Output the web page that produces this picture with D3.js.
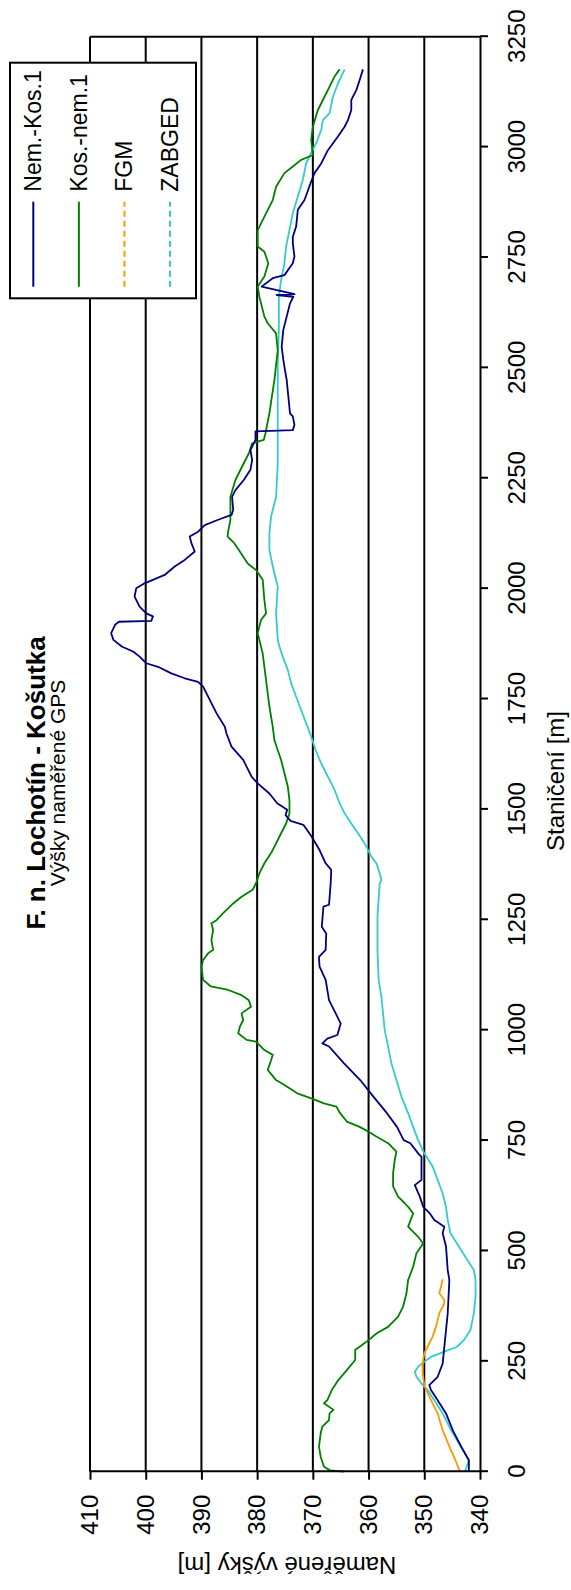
<!DOCTYPE html>
<html><head><meta charset="utf-8">
<script src="https://cdn.jsdelivr.net/npm/d3@7"></script>
<style>html,body{margin:0;padding:0;background:#fff;} svg{display:block;font-family:"Liberation Sans",Arial,sans-serif;}</style>
</head><body><svg id="c" width="571" height="1590"></svg>
<script>
// ---- data ----
const stationTicks = [0,250,500,750,1000,1250,1500,1750,2000,2250,2500,2750,3000,3250];
const heightTicks = [340,350,360,370,380,390,400,410];
const seriesNames = ["Nem.-Kos.1","Kos.-nem.1","FGM","ZABGED"];
const seriesColors = ["#000080","#008000","#FF9900","#33CCCC"];

const nemKosS = [0,26,57,94,132,162,185,196,215,245,283,358,434,457,510,540,555,570,585,600,623,649,661,698,713,721,744,751,781,812,849,887,925,963,970,981,989,1015,1038,1068,1114,1144,1166,1182,1219,1234,1280,1284,1333,1363,1378,1408,1438,1465,1474,1487,1499,1514,1536,1559,1574,1612,1642,1672,1687,1718,1748,1778,1789,1797,1808,1823,1831,1846,1857,1869,1884,1899,1918,1925,1927,1937,1944,1959,1982,2001,2012,2031,2050,2065,2084,2103,2118,2129,2144,2156,2167,2178,2208,2223,2246,2269,2291,2314,2337,2356,2359,2371,2390,2397,2435,2473,2495,2518,2548,2586,2616,2646,2661,2665,2667,2684,2703,2710,2737,2752,2782,2797,2820,2858,2880,2922,2941,2963,2993,3024,3046,3061,3084,3107,3129,3152,3176];
const nemKosV = [342.0,342.0,343.4,344.9,346.1,347.6,348.8,349.1,347.6,346.7,346.4,345.8,345.5,345.8,346.1,346.7,346.4,348.2,349.0,350.2,350.8,351.7,350.5,350.5,350.5,351.1,352.5,353.7,354.9,356.7,359.1,361.5,364.4,367.1,368.3,367.4,365.6,365.0,365.9,367.1,367.7,368.8,368.9,367.7,367.6,368.4,368.1,367.1,366.8,366.7,367.7,368.8,370.2,371.7,374.0,374.9,374.6,376.4,377.8,379.9,381.0,382.5,384.6,385.5,385.8,387.3,388.5,389.7,390.6,393.0,395.4,397.8,399.9,401.1,402.2,404.3,405.8,406.2,405.5,404.8,399.0,398.7,399.9,401.1,402.0,401.7,400.2,396.6,394.8,393.0,391.2,391.8,392.1,390.6,389.4,387.0,384.6,384.3,384.5,383.9,382.4,381.2,380.9,381.2,380.3,380.3,373.6,373.3,373.6,374.1,374.4,374.7,375.0,375.3,375.6,375.3,374.7,374.1,373.5,376.5,373.3,379.2,377.2,375.1,373.6,373.3,373.6,373.6,373.0,372.7,371.5,370.3,369.7,368.5,367.3,365.5,364.3,363.7,363.1,363.1,362.2,361.6,361.0];

const kosNemS = [0,3,11,34,57,87,102,117,132,140,155,162,185,208,230,253,276,283,298,313,328,351,374,404,434,464,495,517,532,555,585,600,608,623,646,676,706,725,744,759,770,781,793,812,827,834,846,857,876,887,910,932,944,955,974,978,993,1008,1023,1038,1053,1068,1080,1091,1099,1114,1144,1159,1174,1182,1204,1227,1242,1249,1265,1287,1302,1318,1333,1355,1378,1401,1423,1446,1468,1491,1521,1552,1582,1612,1634,1657,1687,1733,1763,1793,1823,1853,1884,1899,1914,1929,1944,1974,2020,2042,2057,2080,2103,2118,2129,2156,2208,2246,2284,2306,2329,2337,2352,2397,2473,2540,2578,2601,2616,2661,2684,2707,2737,2763,2775,2812,2850,2880,2910,2941,2956,2971,2982,3016,3046,3084,3114,3137,3160,3176];
const kosNemV = [364.4,366.9,368.0,368.6,368.9,368.6,368.3,367.1,367.0,366.3,368.0,367.4,366.6,365.4,363.9,362.4,362.4,361.6,360.0,358.6,356.5,354.7,353.8,353.2,352.9,352.0,351.4,350.2,351.1,352.9,352.0,352.9,353.5,354.7,355.6,355.6,355.3,355.0,356.5,358.6,360.0,361.6,363.9,365.1,365.8,368.0,370.4,372.8,375.1,376.6,378.1,377.5,377.2,378.7,380.2,381.9,383.4,383.1,382.5,382.8,381.1,381.5,382.9,385.2,388.3,389.7,390.0,389.7,388.8,387.9,388.2,387.9,388.2,387.3,386.1,384.3,382.8,380.8,380.2,379.6,378.7,377.5,376.6,375.7,374.8,374.2,374.2,374.5,375.1,375.7,376.3,376.9,377.2,377.8,378.1,378.4,378.7,379.0,379.6,379.9,379.6,379.3,378.4,378.7,379.0,380.2,381.7,382.9,384.1,385.3,385.2,384.8,384.8,383.9,382.4,381.5,380.9,378.8,378.5,377.8,376.9,376.3,376.6,378.1,378.7,379.6,379.9,378.7,378.0,378.7,379.9,379.9,378.4,377.2,376.6,375.1,373.6,372.1,370.0,370.3,370.0,369.1,367.9,367.0,366.1,365.2];

const fgmS = [0,26,57,94,132,170,196,223,245,268,283,306,328,359,381,389,404,419,436];
const fgmV = [343.6,344.4,345.5,346.7,347.6,349.1,350.0,350.3,350.3,350.0,349.4,348.5,347.9,347.3,346.4,346.4,347.3,347.0,346.7];

const zabgedS = [0,26,57,94,132,162,185,200,215,226,238,249,260,272,283,298,321,359,396,434,457,480,510,540,570,600,630,661,691,721,751,781,812,849,887,925,963,1000,1038,1076,1114,1182,1257,1333,1340,1355,1378,1393,1423,1446,1468,1491,1514,1544,1574,1604,1634,1665,1695,1725,1755,1786,1816,1846,1869,1884,1944,2005,2050,2088,2125,2163,2208,2284,2510,2586,2661,2699,2737,2775,2812,2850,2888,2926,2963,2986,3009,3039,3061,3077,3114,3144,3176];
const zabgedV = [342.7,342.0,343.4,345.2,346.7,348.2,349.4,350.5,351.4,351.7,351.1,350.0,348.8,346.4,344.1,342.9,341.7,341.1,340.8,340.8,341.1,342.3,343.8,345.3,345.8,346.1,346.7,347.6,348.5,350.0,351.1,352.0,352.9,354.1,355.0,355.9,356.5,357.1,357.4,357.7,358.2,358.4,358.4,358.0,357.7,358.0,358.6,359.5,360.7,361.9,363.1,364.3,365.2,366.1,367.3,368.5,369.5,370.3,371.2,372.1,373.0,373.9,374.5,375.4,376.0,376.3,376.6,376.3,377.2,377.8,377.8,377.5,376.6,376.3,376.3,376.1,376.1,375.7,375.1,374.8,374.2,373.6,372.7,371.8,371.2,370.3,369.4,368.5,368.2,367.0,366.4,365.5,364.3];

const titleText = "F. n. Lochotín - Košutka";
const subtitleText = "Výšky naměřené GPS";
const xTitle = "Staničení [m]";
const yTitle = "Naměřené výšky [m]";

// ---- drawing (chart drawn landscape, then rotated -90deg) ----
const W = 1590, H = 571;
const svg = d3.select("#c");
svg.append("rect").attr("width",571).attr("height",1590).attr("fill","#fff");
const g = svg.append("g").attr("transform", `translate(0,${W}) rotate(-90)`);

const x = d3.scaleLinear().domain([0,3250]).range([118.3,1553.3]);
const y = d3.scaleLinear().domain([340,410]).range([480,90]);

// gridlines
g.append("g").selectAll("line").data(heightTicks.filter(d=>d>340)).join("line")
  .attr("x1", x(0)).attr("x2", x(3250)).attr("y1", d=>y(d)).attr("y2", d=>y(d))
  .attr("stroke","#000").attr("stroke-width",2);
// right border at 3250
g.append("line").attr("x1",x(3250)).attr("x2",x(3250)).attr("y1",y(410)).attr("y2",y(340))
  .attr("stroke","#000").attr("stroke-width",2);

// series
const series = [
  {s:nemKosS, v:nemKosV},
  {s:kosNemS, v:kosNemV},
  {s:fgmS, v:fgmV},
  {s:zabgedS, v:zabgedV}
];
const line = d3.line().x(d=>x(d[0])).y(d=>y(d[1]));
const drawOrder = [3,2,1,0];
drawOrder.forEach(i => {
  const pts = series[i].s.map((s,k)=>[s, series[i].v[k]]);
  g.append("path").datum(pts).attr("d", line).attr("fill","none")
    .attr("stroke", seriesColors[i]).attr("stroke-width",1.8).attr("stroke-linejoin","round");
});

// axes
const fs = "24px";
const xAxis = g.append("g").attr("transform",`translate(0,${y(340)})`)
  .call(d3.axisBottom(x).tickValues(stationTicks).tickSize(8).tickSizeOuter(0).tickPadding(20).tickFormat(d3.format("d")));
const yAxis = g.append("g").attr("transform",`translate(${x(0)},0)`)
  .call(d3.axisLeft(y).tickValues(heightTicks).tickSize(8).tickSizeOuter(0).tickPadding(15).tickFormat(d3.format("d")));
[xAxis,yAxis].forEach(a=>{
  a.selectAll("path").attr("stroke","#000").attr("stroke-width",2);
  a.selectAll("line").attr("stroke","#000").attr("stroke-width",2);
  a.selectAll("text").attr("font-size",fs).attr("fill","#000")
   .attr("font-family",'"Liberation Sans",Arial,sans-serif');
});

// titles
g.append("text").attr("x",807).attr("y",45).attr("text-anchor","middle")
  .attr("font-size","26px").attr("font-weight","bold").text(titleText);
g.append("text").attr("x",807).attr("y",65).attr("text-anchor","middle")
  .attr("font-size","21px").text(subtitleText);
g.append("text").attr("x",809).attr("y",564).attr("text-anchor","middle")
  .attr("font-size","24px").text(xTitle);
g.append("text").attr("transform","translate(33,287) rotate(-90)").attr("text-anchor","middle")
  .attr("font-size","24px").text(yTitle);

// legend
const lg = g.append("g");
lg.append("rect").attr("x",1291.7).attr("y",10).attr("width",235.6).attr("height",186)
  .attr("fill","#fff").attr("stroke","#000").attr("stroke-width",2);
const rowY = d3.scalePoint().domain(seriesNames).range([33.3,170]);
const dashes = [null,null,"6,4","6,4"];
seriesNames.forEach((n,i)=>{
  lg.append("line").attr("x1",1303.3).attr("x2",1388.3).attr("y1",rowY(n)).attr("y2",rowY(n))
    .attr("stroke",seriesColors[i]).attr("stroke-width",2).attr("stroke-dasharray",dashes[i]);
  lg.append("text").attr("x",1398.3).attr("y",rowY(n)).attr("dy","0.35em")
    .attr("font-size","23px").text(n);
});
</script></body></html>
